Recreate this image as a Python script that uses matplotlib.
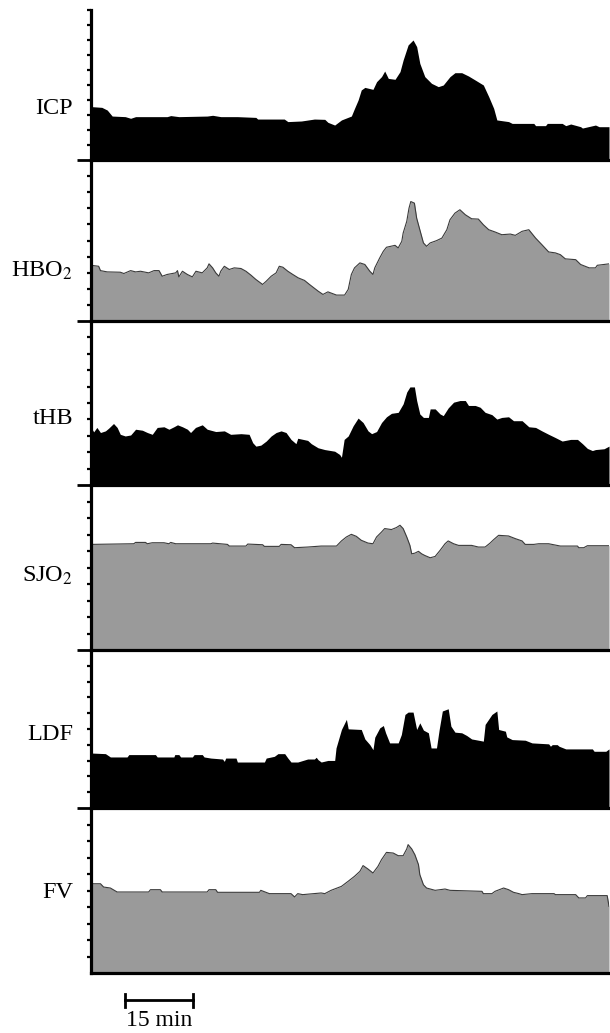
import numpy as np
import matplotlib.pyplot as plt

plt.rcParams['font.family'] = ['Liberation Serif', 'DejaVu Serif']
plt.rcParams['mathtext.fontset'] = 'stix'

# time in minutes, values in % of panel height
icp_t = [0, 2.4, 3.6, 4.7, 7.6, 8.8, 9.9, 16.9, 17.7, 19.5, 25.8, 27.0, 28.8, 32.5, 36.6, 37.0,
         42.9, 43.7, 46.7, 49.6, 51.9, 52.6, 54.1, 55.6, 57.8, 58.5, 59.3, 60.0, 60.8, 62.6,
         63.4, 64.5, 65.2, 66.0, 67.5, 68.6, 69.3, 70.4, 71.5, 72.3, 73.0, 74.1, 75.6, 77.1,
         78.2, 79.7, 80.8, 82.3, 83.8, 85.3, 87.1, 88.3, 89.4, 90.1, 92.7, 93.5, 98.3, 98.7,
         100.9, 101.3, 104.6, 105.4, 106.5, 108.7, 109.1, 112.0, 112.8, 115.0]
icp_v = [35.6, 35.1, 33.3, 29.3, 28.9, 27.8, 28.9, 28.9, 29.6, 28.9, 29.3, 29.8, 28.9, 28.9, 28.4, 27.3,
         27.3, 25.6, 26.0, 27.3, 27.1, 25.1, 23.3, 26.7, 29.3, 34.4, 40.0, 46.7, 48.4, 47.1,
         52.2, 55.6, 59.3, 54.4, 53.8, 58.9, 66.7, 76.7, 80.0, 75.6, 64.4, 55.6, 51.1, 48.9,
         50.0, 55.6, 58.2, 58.2, 56.0, 53.3, 50.0, 42.2, 34.4, 26.7, 25.6, 24.4, 24.4, 22.9,
         22.9, 24.4, 24.4, 22.9, 24.0, 22.2, 21.3, 23.3, 22.2, 22.2]

hbo2_t = [0, 1.7, 2.1, 3.6, 6.5, 7.3, 8.8, 9.9, 11.0, 12.8, 14.0, 15.1, 15.8, 16.9, 18.8, 19.2,
          19.5, 20.3, 21.4, 22.5, 23.3, 24.7, 25.8, 26.2, 27.0, 27.7, 28.4, 28.8, 29.6, 30.7,
          31.8, 33.3, 34.4, 35.5, 36.6, 38.1, 38.9, 40.0, 41.1, 41.8, 42.6, 43.7, 44.8, 46.0,
          47.4, 48.5, 50.4, 51.5, 52.6, 54.5, 56.3, 57.1, 57.8, 58.5, 59.7, 60.8, 61.9, 62.6,
          63.0, 64.1, 64.9, 65.6, 67.5, 68.2, 69.0, 69.3, 70.1, 70.6, 71.0, 71.8, 72.3, 73.0,
          73.8, 74.5, 75.3, 76.7, 77.9, 79.0, 79.7, 80.8, 81.9, 83.1, 84.5, 86.0, 87.1, 88.3,
          89.7, 91.2, 93.1, 94.2, 95.7, 97.2, 98.7, 100.1, 101.6, 103.1, 104.2, 105.3, 107.6,
          108.7, 110.6, 112.0, 112.4, 115.0]
hbo2_v = [34.6, 34.0, 31.3, 30.5, 30.3, 29.5, 31.3, 30.5, 30.9, 29.9, 31.3, 31.3, 27.8, 28.9, 29.9, 31.3,
          27.4, 30.9, 28.9, 27.4, 30.9, 29.9, 33.0, 35.5, 33.0, 29.9, 27.8, 30.9, 34.0, 32.0,
          33.0, 32.6, 30.9, 28.5, 25.8, 22.7, 24.7, 27.8, 29.9, 34.0, 33.4, 30.9, 28.9, 26.8,
          25.2, 22.7, 18.6, 16.5, 18.1, 16.1, 16.1, 19.6, 28.9, 33.0, 36.1, 35.1, 30.9, 28.9,
          33.0, 39.2, 43.3, 45.8, 47.0, 45.4, 49.5, 54.6, 61.9, 70.1, 74.2, 73.2, 63.9, 56.7,
          48.5, 46.4, 48.5, 49.9, 51.5, 56.7, 62.9, 67.0, 69.1, 66.0, 63.5, 63.3, 59.8, 56.7,
          55.3, 53.6, 54.0, 53.2, 55.7, 56.7, 51.5, 47.4, 42.9, 42.3, 41.2, 38.6, 38.1,
          35.1, 33.0, 33.0, 34.6, 35.5]

thb_t = [0, 0.6, 1.3, 2.1, 3.2, 3.9, 5.0, 5.8, 6.5, 7.6, 8.8, 9.9, 11.4, 12.5, 13.6, 14.7, 16.2,
         17.3, 18.4, 19.2, 20.3, 21.4, 22.1, 23.2, 24.7, 25.8, 27.7, 29.6, 31.0, 33.3, 35.1,
         35.9, 36.6, 37.7, 38.9, 40.0, 41.1, 42.2, 43.3, 44.4, 45.5, 45.9, 48.1, 48.9, 50.4,
         51.9, 54.1, 55.2, 55.6, 56.2, 57.1, 58.2, 59.3, 60.4, 61.5, 62.3, 63.4, 64.5, 65.6,
         66.7, 68.2, 69.3, 70.1, 70.8, 71.8, 72.3, 73.0, 73.8, 74.9, 75.3, 76.4, 77.5, 78.2,
         79.3, 80.5, 81.9, 83.1, 83.8, 85.3, 86.4, 87.5, 89.0, 90.1, 91.2, 92.7, 93.8, 95.7,
         97.2, 98.7, 100.1, 101.6, 103.1, 104.6, 106.5, 108.0, 109.1, 110.2, 111.3, 112.0,
         113.9, 115.0]
thb_v = [35.1, 32.4, 35.1, 32.0, 33.0, 34.6, 37.5, 35.1, 30.9, 29.9, 30.5, 34.0, 33.4, 32.0, 30.9, 35.1, 35.5,
         34.0, 35.5, 36.7, 35.5, 34.0, 32.0, 35.1, 36.7, 34.0, 32.6, 33.0, 30.9, 31.3, 30.9,
         25.8, 23.7, 24.3, 26.8, 29.9, 32.0, 33.0, 32.0, 27.8, 25.2, 28.5, 27.2, 25.2, 22.7,
         21.6, 20.6, 18.6, 16.9, 27.8, 29.9, 36.1, 40.8, 38.1, 33.0, 31.3, 32.6, 38.1, 41.6,
         43.7, 44.3, 49.5, 56.7, 59.8, 59.8, 51.5, 43.3, 41.2, 41.2, 46.4, 46.4, 43.3, 42.3,
         47.0, 50.5, 51.5, 51.5, 48.5, 48.5, 47.4, 44.3, 42.9, 40.2, 41.2, 41.6, 39.2, 39.2,
         35.5, 35.1, 33.0, 30.9, 28.9, 26.8, 27.8, 27.8, 25.2, 22.3, 21.0, 21.6,
         22.1, 23.7]

sjo2_t = [0, 9.5, 9.9, 12.1, 12.5, 13.6, 16.2, 17.3, 17.7, 18.8, 26.6, 27.0, 30.3, 30.7, 34.4, 34.8,
          38.1, 38.5, 41.8, 42.2, 44.4, 45.2, 48.1, 51.1, 54.5, 55.6, 56.7, 57.8, 58.9, 60.0,
          61.5, 62.6, 63.4, 64.5, 65.2, 66.7, 67.8, 68.6, 69.3, 70.1, 70.8, 71.2, 71.9, 72.7,
          73.4, 74.1, 75.3, 76.4, 77.5, 78.6, 79.3, 80.5, 81.6, 84.5, 86.0, 87.5, 88.6, 89.4,
          90.5, 92.7, 94.2, 95.7, 96.4, 98.3, 99.4, 101.6, 104.2, 108.0, 108.3, 109.4, 110.2, 115.0]
sjo2_v = [64.0, 64.4, 65.2, 65.2, 64.4, 65.0, 65.0, 64.4, 65.2, 64.4, 64.4, 64.8, 64.0, 63.0, 63.0, 64.2,
          63.8, 62.8, 62.8, 64.0, 63.8, 62.0, 62.4, 63.0, 63.0, 66.1, 68.5, 70.1, 68.9, 66.5,
          64.8, 64.4, 68.5, 71.5, 73.6, 73.0, 74.2, 75.6, 73.6, 68.5, 63.4, 58.3, 58.7, 59.8,
          58.3, 57.3, 55.9, 56.7, 60.4, 64.4, 66.1, 64.4, 63.4, 63.4, 62.4, 62.4, 64.8, 66.9,
          69.5, 69.1, 67.5, 66.1, 64.0, 64.0, 64.4, 64.4, 63.0, 63.0, 62.0, 62.0, 63.2, 63.2]

ldf_t = [0, 3.2, 4.3, 8.0, 8.4, 9.1, 14.3, 14.7, 18.4, 18.6, 19.5, 19.9, 22.5, 22.9, 24.7, 25.1,
         26.6, 29.2, 29.6, 29.9, 32.2, 32.5, 38.5, 38.9, 40.7, 41.5, 43.0, 43.7, 44.4, 45.9,
         48.1, 49.6, 50.0, 50.4, 51.1, 52.6, 54.1, 54.4, 55.6, 56.7, 57.1, 60.0, 60.8, 61.9,
         62.6, 63.0, 64.1, 64.9, 65.4, 66.3, 68.2, 68.9, 69.7, 70.4, 71.5, 72.3, 73.0, 73.8,
         74.9, 75.5, 76.7, 77.3, 78.0, 79.3, 79.9, 80.8, 82.3, 83.4, 84.5, 86.4, 87.1, 87.5,
         89.0, 90.1, 90.5, 92.0, 92.3, 93.5, 96.4, 97.9, 101.6, 102.0, 102.4, 103.5, 103.9,
         105.4, 111.3, 111.7, 114.3, 115.0]
ldf_v = [34.8, 34.4, 32.3, 32.3, 33.8, 33.8, 33.8, 32.3, 32.3, 33.8, 33.8, 32.3, 32.3, 33.8, 33.8, 32.3,
         31.6, 31.0, 29.5, 31.6, 31.6, 29.1, 29.1, 31.6, 32.7, 34.4, 34.4, 31.6, 29.1, 29.1,
         31.0, 31.0, 32.1, 30.6, 29.1, 30.1, 30.1, 38.0, 49.7, 56.1, 50.1, 49.7, 43.7, 40.1,
         36.9, 44.8, 50.7, 52.2, 47.6, 41.2, 41.2, 46.5, 59.2, 60.7, 60.7, 49.7, 53.9, 49.3,
         47.6, 38.0, 38.0, 49.7, 61.4, 62.8, 51.8, 48.0, 47.6, 45.9, 43.7, 42.7, 42.3, 52.9,
         59.2, 61.4, 49.7, 48.6, 45.0, 43.3, 42.9, 41.2, 40.6, 39.1, 40.1, 40.1, 39.1,
         37.4, 37.4, 35.9, 35.9, 37.4]

fv_t = [0, 2.1, 2.8, 4.3, 5.8, 12.8, 13.2, 15.4, 15.8, 25.8, 26.2, 27.7, 28.1, 37.4, 37.7, 39.6,
        44.4, 45.2, 45.9, 47.0, 51.1, 51.9, 53.3, 55.6, 57.1, 58.5, 59.7, 60.4, 61.5, 62.6,
        63.7, 64.5, 65.6, 67.1, 68.2, 69.3, 70.1, 70.4, 71.2, 71.9, 72.7, 73.0, 73.8, 74.5,
        76.4, 78.6, 79.7, 86.8, 87.1, 89.0, 89.7, 91.6, 92.7, 93.8, 95.0, 95.7, 97.9, 102.8,
        103.1, 107.6, 108.3, 109.8, 110.2, 114.6, 115.0]
fv_v = [54.1, 54.1, 52.1, 51.5, 49.1, 49.1, 50.5, 50.5, 49.1, 49.1, 50.5, 50.5, 48.9, 48.9, 50.1, 48.1,
        48.1, 46.1, 48.1, 47.5, 48.5, 48.1, 50.1, 52.5, 55.6, 58.6, 61.6, 65.1, 63.0, 60.6,
        64.6, 68.7, 73.1, 72.7, 71.1, 71.1, 75.2, 77.8, 75.2, 71.7, 65.7, 59.6, 53.5, 51.5,
        50.1, 50.9, 50.1, 49.5, 48.1, 48.1, 49.5, 51.5, 50.5, 48.9, 48.1, 47.5, 48.1, 48.1,
        47.5, 47.5, 45.5, 45.5, 46.9, 46.9, 40.4]

labels = ['ICP', 'HBO$_2$', 'tHB', 'SJO$_2$', 'LDF', 'FV']
series = [(icp_t, icp_v), (hbo2_t, hbo2_v), (thb_t, thb_v),
          (sjo2_t, sjo2_v), (ldf_t, ldf_v), (fv_t, fv_v)]
gray = [False, True, False, True, False, True]

W, H = 610, 1033
edges = [10, 160, 321, 485, 650, 808, 973]   # panel borders in pixels from top
label_y = [108, 271, 418, 576, 735, 893]
x0, x1 = 91, 609

fig = plt.figure(figsize=(W / 100, H / 100), dpi=100)

axes = []
for i in range(6):
    top, bot = edges[i], edges[i + 1]
    ax = fig.add_axes([x0 / W, 1 - bot / H, (x1 - x0) / W, (bot - top) / H])
    t, v = series[i]
    if gray[i]:
        ax.fill_between(t, v, 0, color='#9a9a9a', lw=0)
        ax.plot(t, v, color='#3a3a3a', lw=0.8)
    else:
        ax.fill_between(t, v, 0, color='black', lw=0)
    ax.axhline(0, color='black', lw=2.3, clip_on=False)
    ax.set_xlim(0, 115)
    ax.set_ylim(0, 100)
    for s in ['top', 'right', 'bottom']:
        ax.spines[s].set_visible(False)
    ax.spines['left'].set_linewidth(2.3)
    ax.set_xticks([])
    # long tick at each baseline except the last one
    ax.set_yticks([0] if i < 5 else [])
    ax.set_yticklabels([])
    minor = list(range(10, 100, 10))
    if i == 0:
        minor.append(100)
    ax.set_yticks(minor, minor=True)
    ax.tick_params(axis='y', which='major', length=10, width=2, direction='out')
    ax.tick_params(axis='y', which='minor', length=3, width=1.6, direction='out')
    ax.patch.set_alpha(0)
    fig.text(73 / W, 1 - label_y[i] / H, labels[i], ha='right', va='center', fontsize=17.5)
    axes.append(ax)

# 15 min scale bar under the last trace
ax = axes[-1]
t0 = 7.6
ybar = -16.5
ax.plot([t0, t0 + 15], [ybar, ybar], color='black', lw=2, clip_on=False)
ax.plot([t0, t0], [ybar - 4, ybar + 4], color='black', lw=2, clip_on=False)
ax.plot([t0 + 15, t0 + 15], [ybar - 4, ybar + 4], color='black', lw=2, clip_on=False)
ax.text(t0 + 7.5, -29, '15 min', ha='center', va='center', fontsize=17)

fig.savefig('out.png', dpi=100)
